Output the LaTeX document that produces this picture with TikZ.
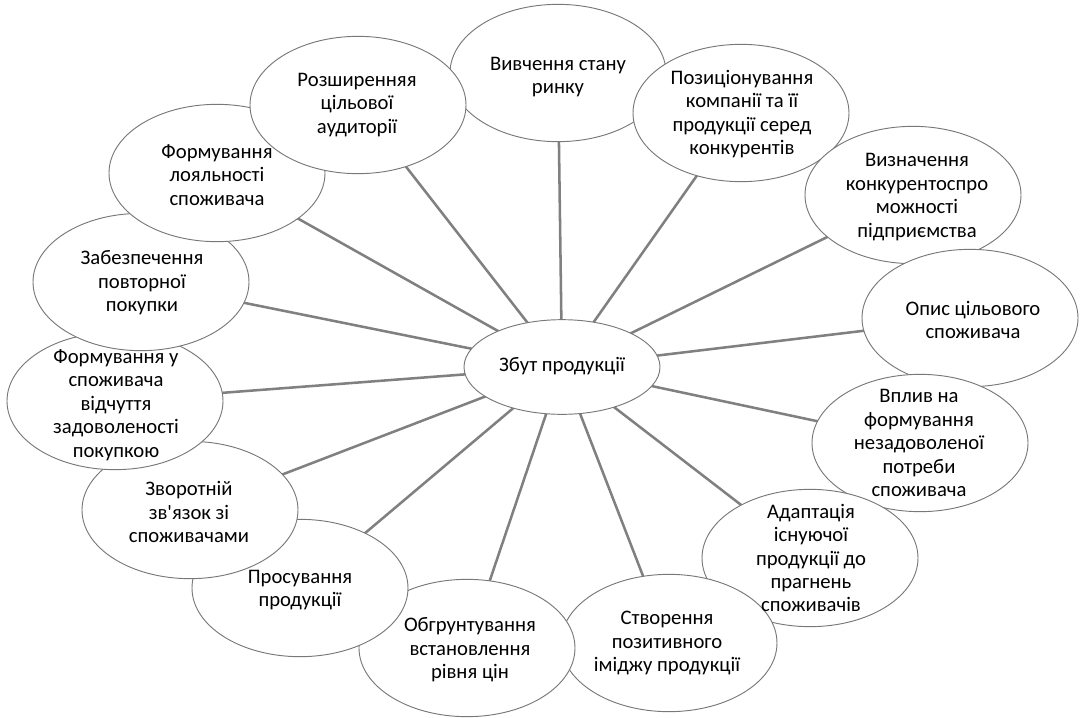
\documentclass[tikz,border=0pt]{standalone}
\usepackage{fontspec}
\setmainfont{Carlito}
\usetikzlibrary{shapes.geometric}
\pgfdeclarelayer{bg}
\pgfsetlayers{bg,main}
\definecolor{linegray}{RGB}{128,128,128}
\definecolor{edgegray}{RGB}{120,120,120}
\tikzset{
  sat/.style={ellipse, draw=edgegray, line width=0.7pt, fill=white, inner sep=0pt,
              minimum width=162pt, minimum height=103pt},
  hubst/.style={ellipse, draw=edgegray, line width=0.7pt, fill=white, inner sep=0pt,
              minimum width=147pt, minimum height=71pt},
  txt/.style={align=center, inner sep=0pt, text=black,
              font=\fontsize{15.5}{17.6}\selectfont},
  spoke/.style={draw=linegray, line width=1.9pt}
}
\begin{document}
\begin{tikzpicture}[x=0.75pt, y=-0.75pt]
\useasboundingbox (0,0) rectangle (1083,718);
% hub
\node[hubst] (hub) at (562,367) {};
% satellites, in stacking order
\node[sat] (e1) at (558,73) {};
\node[sat] (e2) at (741,113) {};
\node[sat] (e3) at (913,195) {};
\node[sat] (e4) at (970,318) {};
\node[sat] (e5) at (920,443) {};
\node[sat] (e6) at (810,558) {};
\node[sat] (e7) at (669,643) {};
\node[sat] (e8) at (467,648) {};
\node[sat] (e9) at (300,588) {};
\node[sat] (e10) at (190,510) {};
\node[sat] (e11) at (115,401) {};
\node[sat] (e12) at (141,282) {};
\node[sat] (e13) at (217,173) {};
\node[sat] (e14) at (358,105) {};
% texts on top
\node[txt] (thub) at (562,366) {Збут продукції};
\node[txt] (t1) at (558,77) {Вивчення стану\\ринку};
\node[txt] (t2) at (742,114) {Позиціонування\\компанії та її\\продукції серед\\конкурентів};
\node[txt] (t3) at (917,197) {Визначення\\конкурентоспро\\можності\\підприємства};
\node[txt] (t4) at (973,320) {Опис цільового\\споживача};
\node[txt] (t5) at (919,443) {Вплив на\\формування\\незадоволеної\\потреби\\споживача};
\node[txt] (t6) at (811,558) {Адаптація\\існуючої\\продукції до\\прагнень\\споживачів};
\node[txt] (t7) at (667,643) {Створення\\позитивного\\іміджу продукції};
\node[txt] (t8) at (470,650) {Обгрунтування\\встановлення\\рівня цін};
\node[txt] (t9) at (300,590) {Просування\\продукції};
\node[txt] (t10) at (189,512) {Зворотній\\зв\textquotesingle язок зі\\споживачами};
\node[txt] (t11) at (116,405) {Формування у\\споживача\\відчуття\\задоволеності\\покупкою};
\node[txt] (t12) at (142,283) {Забезпечення\\повторної\\покупки};
\node[txt] (t13) at (217,175) {Формування\\лояльності\\споживача};
\node[txt] (t14) at (357,105) {Розширенняя\\цільової\\аудиторії};
% spokes below everything
\begin{pgfonlayer}{bg}
\foreach \i in {1,...,14}{
  \draw[spoke] (hub.center) -- (e\i.center);
}
\end{pgfonlayer}
\end{tikzpicture}
\end{document}
